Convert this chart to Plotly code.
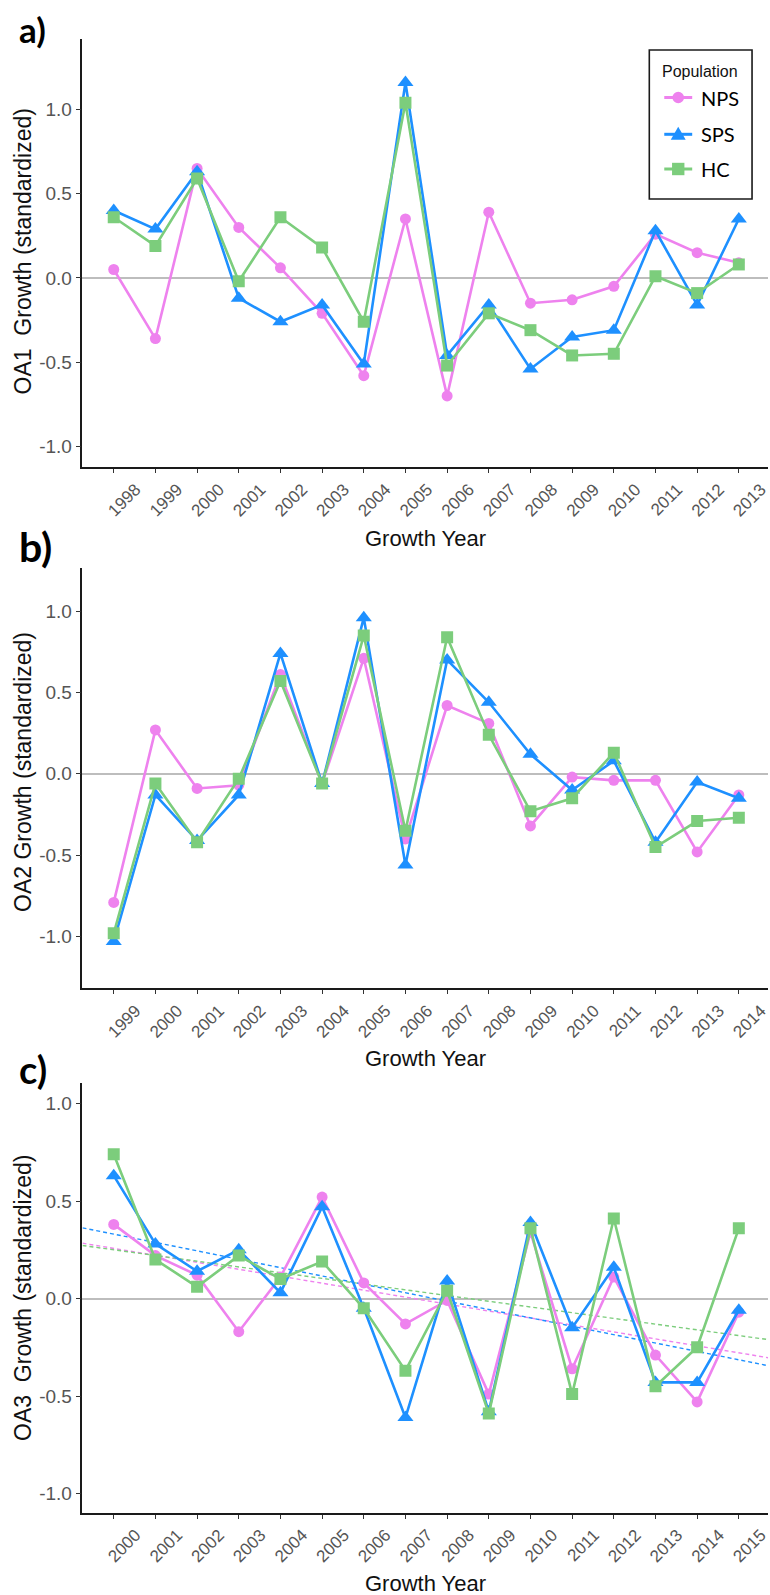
import numpy as np
import plotly.graph_objects as go

# ---------------- data ----------------
populations = ["NPS", "SPS", "HC"]

years_a = [1998, 1999, 2000, 2001, 2002, 2003, 2004, 2005, 2006, 2007, 2008, 2009, 2010, 2011, 2012, 2013]
oa1_nps = [0.05, -0.36, 0.65, 0.30, 0.06, -0.21, -0.58, 0.35, -0.70, 0.39, -0.15, -0.13, -0.05, 0.26, 0.15, 0.09]
oa1_sps = [0.40, 0.29, 0.63, -0.12, -0.26, -0.16, -0.51, 1.16, -0.46, -0.16, -0.54, -0.35, -0.31, 0.28, -0.16, 0.35]
oa1_hc = [0.36, 0.19, 0.59, -0.02, 0.36, 0.18, -0.26, 1.04, -0.52, -0.21, -0.31, -0.46, -0.45, 0.01, -0.09, 0.08]

years_b = [1999, 2000, 2001, 2002, 2003, 2004, 2005, 2006, 2007, 2008, 2009, 2010, 2011, 2012, 2013, 2014]
oa2_nps = [-0.79, 0.27, -0.09, -0.07, 0.61, -0.06, 0.71, -0.40, 0.42, 0.31, -0.32, -0.02, -0.04, -0.04, -0.48, -0.13]
oa2_sps = [-1.03, -0.13, -0.41, -0.13, 0.74, -0.06, 0.96, -0.56, 0.70, 0.44, 0.12, -0.10, 0.08, -0.42, -0.05, -0.15]
oa2_hc = [-0.98, -0.06, -0.42, -0.03, 0.57, -0.06, 0.85, -0.35, 0.84, 0.24, -0.23, -0.15, 0.13, -0.45, -0.29, -0.27]

years_c = [2000, 2001, 2002, 2003, 2004, 2005, 2006, 2007, 2008, 2009, 2010, 2011, 2012, 2013, 2014, 2015]
oa3_nps = [0.38, 0.22, 0.12, -0.17, 0.11, 0.52, 0.08, -0.13, -0.01, -0.49, 0.34, -0.36, 0.11, -0.29, -0.53, -0.07]
oa3_sps = [0.63, 0.28, 0.14, 0.25, 0.03, 0.47, -0.05, -0.61, 0.09, -0.58, 0.39, -0.15, 0.16, -0.43, -0.43, -0.06]
oa3_hc = [0.74, 0.20, 0.06, 0.22, 0.10, 0.19, -0.05, -0.37, 0.04, -0.59, 0.36, -0.49, 0.41, -0.45, -0.25, 0.36]

ytick_vals = [-1.0, -0.5, 0.0, 0.5, 1.0]
ytick_text = ["-1.0", "-0.5", "0.0", "0.5", "1.0"]

panel_labels = ["a)", "b)", "c)"]
y_titles = ["OA1\u00a0\u00a0Growth (standardized)", "OA2 Growth (standardized)", "OA3\u00a0\u00a0Growth (standardized)"]
x_title = "Growth Year"
legend_title = "Population"

# ---------------- styles ----------------
colors = {"NPS": "#EE82EE", "SPS": "#1E90FF", "HC": "#7CCD7C"}
symbols = {"NPS": "circle", "SPS": "triangle-up", "HC": "square"}
msizes = {"NPS": 11, "SPS": 14, "HC": 12}

W, H = 770, 1595
x_left_px = 82.7
panels = [
    dict(years=years_a, series=[oa1_nps, oa1_sps, oa1_hc], top=39, bottom=467, yr=[-1.122, 1.418],
         ytitle_y=251.5, xtitle_y=538, lab_y=29, lab_size=35),
    dict(years=years_b, series=[oa2_nps, oa2_sps, oa2_hc], top=568, bottom=988.3, yr=[-1.318, 1.265],
         ytitle_y=772, xtitle_y=1058, lab_y=546, lab_size=41),
    dict(years=years_c, series=[oa3_nps, oa3_sps, oa3_hc], top=1083, bottom=1512.7, yr=[-1.098, 1.105],
         ytitle_y=1298, xtitle_y=1583, lab_y=1069, lab_size=38),
]


def px_x(v):
    return v / W


def px_y(v):
    return 1 - v / H


fig = go.Figure()
annotations = []
shapes = []
layout_axes = {}

for i, p in enumerate(panels):
    n = i + 1
    xa = "x" if n == 1 else f"x{n}"
    ya = "y" if n == 1 else f"y{n}"
    xr = [p["years"][0] - 0.75, p["years"][-1] + 0.70]

    # linear trend lines (panel c)
    if n == 3:
        xs = np.array(p["years"], dtype=float)
        for pop, vals in zip(populations, p["series"]):
            slope, icpt = np.polyfit(xs, np.array(vals), 1)
            xe = np.array([xr[0], xr[1] + 0.1])
            fig.add_trace(go.Scatter(
                x=xe, y=slope * xe + icpt, mode="lines", xaxis=xa, yaxis=ya,
                line=dict(color=colors[pop], width=1.4, dash="4px,3px"),
                showlegend=False, hoverinfo="skip"))

    for pop, vals in zip(populations, p["series"]):
        fig.add_trace(go.Scatter(
            x=p["years"], y=vals, mode="lines+markers", name=pop,
            xaxis=xa, yaxis=ya, showlegend=False,
            line=dict(color=colors[pop], width=2.6),
            marker=dict(color=colors[pop], symbol=symbols[pop], size=msizes[pop],
                        line=dict(width=0))))

    ydom = [px_y(p["bottom"]), px_y(p["top"])]
    layout_axes["xaxis" if n == 1 else f"xaxis{n}"] = dict(
        domain=[x_left_px / W, 1.0], anchor=ya, range=xr,
        tickvals=p["years"], ticktext=[str(y) for y in p["years"]],
        tickangle=-45, ticklabelshift=22, ticklabelstandoff=0, ticklabeloverflow="allow",
        ticks="outside", ticklen=4, tickwidth=1, tickcolor="#333333",
        showline=True, linecolor="#1a1a1a", linewidth=1.6, showgrid=False, zeroline=False,
        tickfont=dict(family="Liberation Sans", size=17, color="#555555"))
    layout_axes["yaxis" if n == 1 else f"yaxis{n}"] = dict(
        domain=ydom, anchor=xa, range=p["yr"],
        tickvals=ytick_vals, ticktext=ytick_text,
        ticks="outside", ticklen=5, tickwidth=1, tickcolor="#333333",
        showline=True, linecolor="#1a1a1a", linewidth=1.6, showgrid=False,
        zeroline=True, zerolinecolor="#BDBDBD", zerolinewidth=1.6,
        tickfont=dict(family="Liberation Sans", size=19, color="#555555"))

    annotations.append(dict(
        text=y_titles[i], textangle=-90, xref="paper", yref="paper",
        x=px_x(23), y=px_y(p["ytitle_y"]), xanchor="center", yanchor="middle",
        showarrow=False, font=dict(family="Liberation Sans", size=23, color="#111111")))
    annotations.append(dict(
        text=x_title, xref="paper", yref="paper",
        x=px_x(427), y=px_y(p["xtitle_y"]), xanchor="center", yanchor="middle",
        showarrow=False, font=dict(family="Liberation Sans", size=22, color="#111111")))
    annotations.append(dict(
        text="<b>" + panel_labels[i] + "</b>", xref="paper", yref="paper",
        x=px_x(17), y=px_y(p["lab_y"]), xanchor="left", yanchor="middle",
        showarrow=False, font=dict(family="Lato", size=p["lab_size"], color="#000000")))

# ---------------- legend (panel a, drawn as a key box) ----------------
leg_left, leg_right, leg_top, leg_bottom = 651, 754, 50, 199
shapes.append(dict(type="rect", xref="paper", yref="paper",
                   x0=px_x(leg_left), x1=px_x(leg_right), y0=px_y(leg_bottom), y1=px_y(leg_top),
                   line=dict(color="#1a1a1a", width=1.6), fillcolor="white", layer="above"))
annotations.append(dict(text=legend_title, xref="paper", yref="paper",
                        x=px_x(662), y=px_y(72), xanchor="left", yanchor="middle", showarrow=False,
                        font=dict(family="Liberation Sans", size=16, color="#111111")))
item_y = [97.5, 134.3, 169]
kx0, kx1, kc = 666, 694, 680
for pop, yc in zip(populations, item_y):
    c = colors[pop]
    shapes.append(dict(type="line", xref="paper", yref="paper",
                       x0=px_x(kx0), x1=px_x(kx1), y0=px_y(yc), y1=px_y(yc),
                       line=dict(color=c, width=3), layer="above"))
    if symbols[pop] == "circle":
        r = 5.8
        shapes.append(dict(type="circle", xref="paper", yref="paper",
                           x0=px_x(kc - r), x1=px_x(kc + r), y0=px_y(yc + r), y1=px_y(yc - r),
                           line=dict(width=0), fillcolor=c, layer="above"))
    elif symbols[pop] == "square":
        r = 6.2
        shapes.append(dict(type="rect", xref="paper", yref="paper",
                           x0=px_x(kc - r), x1=px_x(kc + r), y0=px_y(yc + r), y1=px_y(yc - r),
                           line=dict(width=0), fillcolor=c, layer="above"))
    else:
        path = "M {:.5f},{:.5f} L {:.5f},{:.5f} L {:.5f},{:.5f} Z".format(
            px_x(kc), px_y(yc - 7.5), px_x(kc - 7.5), px_y(yc + 5.5), px_x(kc + 7.5), px_y(yc + 5.5))
        shapes.append(dict(type="path", xref="paper", yref="paper", path=path,
                           line=dict(width=0), fillcolor=c, layer="above"))
    annotations.append(dict(text=pop, xref="paper", yref="paper",
                            x=px_x(701), y=px_y(yc), xanchor="left", yanchor="middle", showarrow=False,
                            font=dict(family="Lato", size=20, color="#000000")))

fig.update_layout(
    width=W, height=H, margin=dict(l=0, r=0, t=0, b=0),
    paper_bgcolor="white", plot_bgcolor="white",
    annotations=annotations, shapes=shapes,
    showlegend=False,
    **layout_axes,
)

fig.write_html("out.html")
